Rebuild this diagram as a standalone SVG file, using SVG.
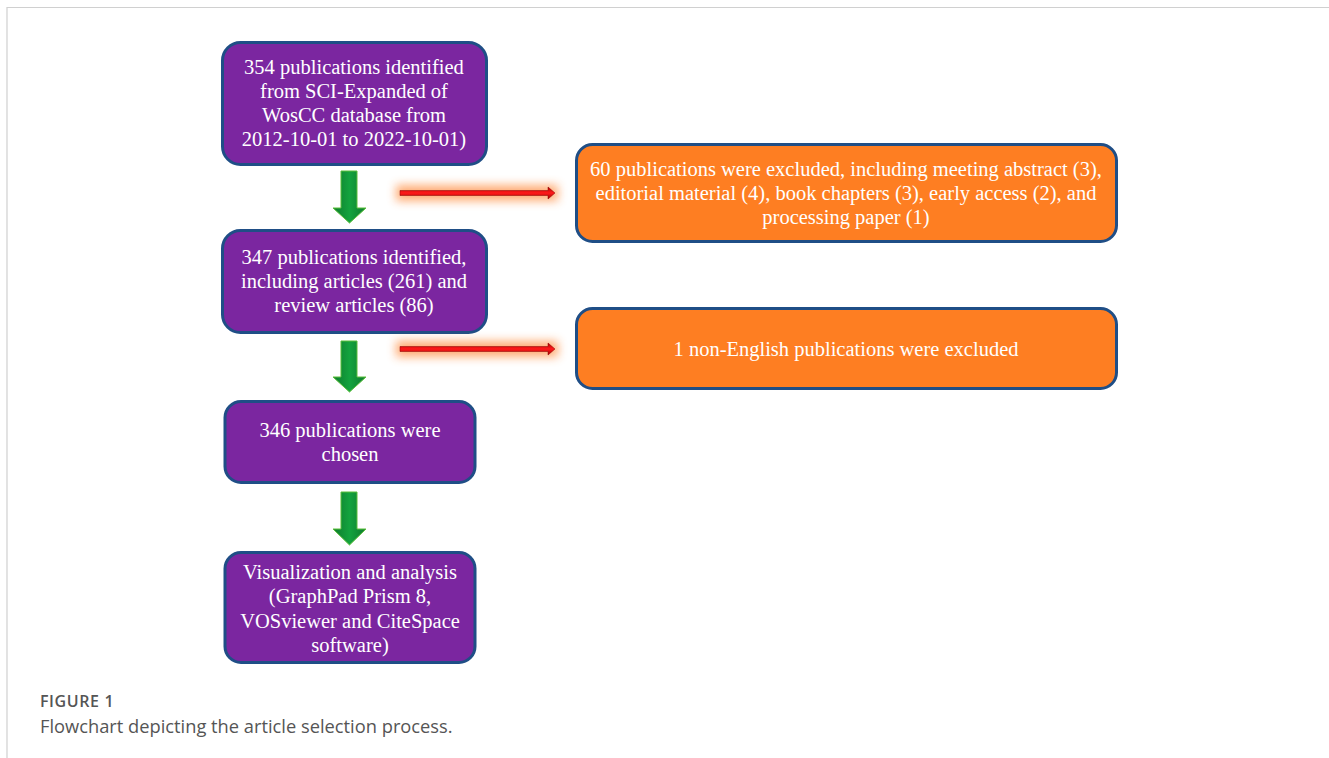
<svg xmlns="http://www.w3.org/2000/svg" width="1329" height="758" viewBox="0 0 1329 758">
<style>
.pbox{fill:#7B26A0;stroke:#1F4E86;stroke-width:3}
.obox{fill:#FE7E22;stroke:#1F4E86;stroke-width:3}
.t{font-family:"Liberation Serif","Times New Roman",serif;font-size:20.5px;fill:#ffffff;text-anchor:middle}
.cap1{font-family:"Open Sans","Noto Sans",sans-serif;font-size:16px;font-weight:600;letter-spacing:0.6px;fill:#555555}
.cap2{font-family:"Open Sans","Noto Sans",sans-serif;font-size:18.3px;fill:#555555}
.garrow{fill:url(#gg);stroke:#5BBF3A;stroke-width:1}
</style>
<defs>
<linearGradient id="gg" x1="0" y1="0" x2="1" y2="0">
<stop offset="0" stop-color="#0E7A2E"/>
<stop offset="0.5" stop-color="#13A33E"/>
<stop offset="1" stop-color="#0E7A2E"/>
</linearGradient>
<linearGradient id="rg" x1="0" y1="0" x2="0" y2="1">
<stop offset="0" stop-color="#B00000"/>
<stop offset="0.5" stop-color="#FF1A1A"/>
<stop offset="1" stop-color="#A00000"/>
</linearGradient>
<filter id="glow" x="-20%" y="-300%" width="140%" height="700%">
<feGaussianBlur stdDeviation="5"/>
</filter>
</defs>
<rect width="1329" height="758" fill="#ffffff"/>
<path d="M7 758 V7.5 H1329" fill="none" stroke="#d0d0d0" stroke-width="1.2"/>

<g id="n1">
<rect class="pbox" x="222.5" y="42.5" width="264" height="122" rx="18"/>
<text class="t" x="354" y="74">354 publications identified</text>
<text class="t" x="354" y="98">from SCI-Expanded of</text>
<text class="t" x="354" y="122">WosCC database from</text>
<text class="t" x="354" y="146">2012-10-01 to 2022-10-01)</text>
</g>
<g id="n2">
<rect class="pbox" x="222.5" y="230.5" width="264" height="102" rx="18"/>
<text class="t" x="354" y="264">347 publications identified,</text>
<text class="t" x="354" y="288">including articles (261) and</text>
<text class="t" x="354" y="312">review articles (86)</text>
</g>
<g id="n3">
<rect class="pbox" x="225" y="401.5" width="250" height="81" rx="16"/>
<text class="t" x="350" y="437">346 publications were</text>
<text class="t" x="350" y="461">chosen</text>
</g>
<g id="n4">
<rect class="pbox" x="225" y="552.5" width="250" height="110" rx="16"/>
<text class="t" x="350" y="579">Visualization and analysis</text>
<text class="t" x="350" y="603">(GraphPad Prism 8,</text>
<text class="t" x="350" y="628">VOSviewer and CiteSpace</text>
<text class="t" x="350" y="652">software)</text>
</g>
<g id="e1">
<rect class="obox" x="576.5" y="144.5" width="540" height="97" rx="16"/>
<text class="t" x="846" y="176">60 publications were excluded, including meeting abstract (3),</text>
<text class="t" x="846" y="200">editorial material (4), book chapters (3), early access (2), and</text>
<text class="t" x="846" y="224">processing paper (1)</text>
</g>
<g id="e2">
<rect class="obox" x="576.5" y="308.5" width="540" height="80" rx="16"/>
<text class="t" x="846" y="356">1 non-English publications were excluded</text>
</g>

<g id="connectors">
<path class="garrow" d="M341 171 H357 V208 H366 L349.5 223 L333 208 H341 Z"/>
<path class="garrow" d="M341 341 H357 V377 H366 L349.5 392 L333 377 H341 Z"/>
<path class="garrow" d="M341 492 H357 V529 H366 L349.5 545 L333 529 H341 Z"/>
<rect x="396" y="185" width="162" height="16" fill="#FF8A3A" opacity="0.7" filter="url(#glow)"/>
<path d="M400 190.5 H548 V187 L555 193 L548 199 V195.5 H400 Z" fill="url(#rg)" stroke="#8A0000" stroke-width="0.5"/>
<rect x="396" y="341" width="162" height="16" fill="#FF8A3A" opacity="0.7" filter="url(#glow)"/>
<path d="M400 346.5 H548 V343 L555 349 L548 355 V351.5 H400 Z" fill="url(#rg)" stroke="#8A0000" stroke-width="0.5"/>
</g>

<text class="cap1" x="40" y="707">FIGURE 1</text>
<text class="cap2" x="40" y="733">Flowchart depicting the article selection process.</text>
</svg>
